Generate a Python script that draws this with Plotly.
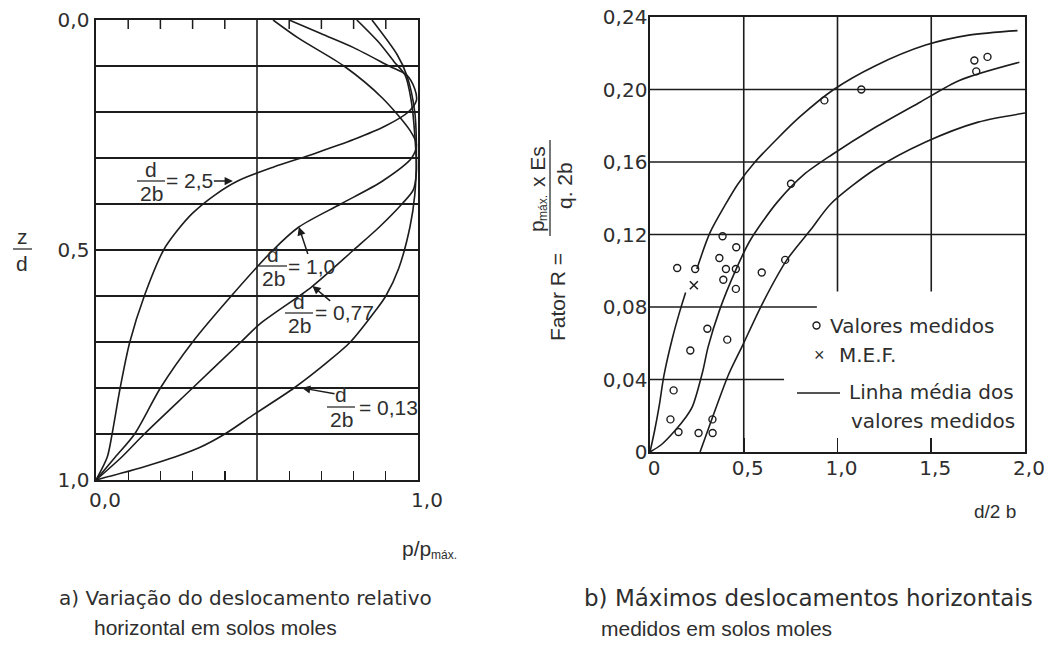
import plotly.graph_objects as go

W, H = 1050, 649
INK = "#1c1c1c"
TXT = "#2e2e2e"
FONT_FAMILY = "Liberation Sans, Arial, sans-serif"
WIDE_FAMILY = "DejaVu Sans, Verdana, sans-serif"
FS = 21

# ---------------- Panel a) data: p/pmax vs z/d ----------------
c25_z = [1.0, 0.95, 0.9, 0.8, 0.7, 0.6, 0.5, 0.46, 0.42, 0.38, 0.35, 0.32, 0.29, 0.26, 0.23, 0.2, 0.175, 0.15, 0.12, 0.1, 0.06, 0.03, 0.0]
c25_p = [0.0, 0.035, 0.05, 0.075, 0.105, 0.15, 0.21, 0.25, 0.30, 0.37, 0.44, 0.55, 0.68, 0.80, 0.90, 0.97, 0.995, 0.99, 0.965, 0.91, 0.8, 0.7, 0.6]

c10_z = [1.0, 0.95, 0.9, 0.8, 0.7, 0.6, 0.5, 0.45, 0.4, 0.35, 0.3, 0.27, 0.24, 0.17, 0.1, 0.04, 0.0]
c10_p = [0.0, 0.06, 0.12, 0.2, 0.3, 0.42, 0.55, 0.63, 0.76, 0.89, 0.98, 0.995, 0.975, 0.89, 0.77, 0.63, 0.55]

c077_z = [1.0, 0.95, 0.9, 0.8, 0.7, 0.66, 0.58, 0.5, 0.45, 0.4, 0.37, 0.33, 0.25, 0.18, 0.12, 0.09, 0.05, 0.0]
c077_p = [0.0, 0.08, 0.15, 0.30, 0.45, 0.51, 0.67, 0.80, 0.88, 0.95, 0.985, 0.995, 0.99, 0.98, 0.96, 0.925, 0.88, 0.81]

c013_z = [1.0, 0.985, 0.97, 0.95, 0.93, 0.9, 0.86, 0.8, 0.74, 0.7, 0.63, 0.6, 0.54, 0.45, 0.38, 0.3, 0.2, 0.12, 0.075, 0.0]
c013_p = [0.0, 0.08, 0.155, 0.245, 0.32, 0.40, 0.485, 0.615, 0.725, 0.79, 0.87, 0.90, 0.94, 0.975, 0.99, 0.995, 0.99, 0.965, 0.935, 0.857]

# ---------------- Panel b) data: R vs d/2b ----------------
upper_x = [0.0, 0.025, 0.05, 0.074, 0.12, 0.16, 0.19, None, 0.25, 0.32, 0.405, 0.47, 0.56, 0.68, 0.80, 0.98, 1.2, 1.47, 1.7, 1.96]
upper_y = [0.0, 0.012, 0.026, 0.042, 0.063, 0.078, 0.088, None, 0.101, 0.121, 0.137, 0.148, 0.160, 0.173, 0.185, 0.200, 0.213, 0.2245, 0.23, 0.2325]

middle_x = [0.0, 0.06, 0.135, 0.19, 0.226, 0.28, 0.31, 0.37, 0.46, 0.53, 0.6, 0.68, 0.82, 0.97, 1.2, 1.44, 1.65, 1.97]
middle_y = [0.0, 0.004, 0.012, 0.019, 0.025, 0.044, 0.058, 0.078, 0.101, 0.116, 0.127, 0.138, 0.153, 0.164, 0.179, 0.193, 0.205, 0.215]

lower_x = [0.267, 0.333, 0.418, 0.49, 0.605, 0.73, 0.86, 0.965, 1.2, 1.47, 1.75, 2.0]
lower_y = [0.0, 0.019, 0.0425, 0.058, 0.083, 0.106, 0.123, 0.137, 0.156, 0.171, 0.182, 0.187]

meas_x = [0.145, 0.241, 0.387, 0.46, 0.37, 0.405, 0.458, 0.391, 0.458, 0.596, 0.306, 0.412, 0.215,
          0.126, 0.109, 0.152, 0.259, 0.334, 0.333, 0.721, 0.752, 0.93, 1.127, 1.73, 1.80, 1.74]
meas_y = [0.1015, 0.101, 0.119, 0.113, 0.107, 0.101, 0.101, 0.095, 0.09, 0.099, 0.068, 0.062, 0.056,
          0.034, 0.018, 0.011, 0.0105, 0.0105, 0.018, 0.106, 0.148, 0.194, 0.2, 0.216, 0.218, 0.21]

mef_x = [0.234]
mef_y = [0.092]

# tick labels / tick positions
a_x_ticks = [0, 1]
a_x_text = ["0,0", "1,0"]
a_tick_marks = [0.1, 0.2, 0.3, 0.4, 0.6, 0.7, 0.8, 0.9]
a_y_ticks = [0, 0.5, 1]
a_y_text = ["0,0", "0,5", "1,0"]
b_x_ticks = [0, 0.5, 1.0, 1.5, 2.0]
b_x_text = ["0", "0,5", "1,0", "1,5", "2,0"]
b_y_ticks = [0, 0.04, 0.08, 0.12, 0.16, 0.20, 0.24]
b_y_text = ["0", "0,04", "0,08", "0,12", "0,16", "0,20", "0,24"]

# grids: (value, start, end)
a_vgrid = [(0.5, 0.0, 1.0)]
b_vgrid = [(0.5, 0.0, 0.24), (1.0, 0.0885, 0.24), (1.5, 0.0885, 0.24)]
b_hgrid = [(0.04, 0.0, 0.715), (0.08, 0.0, 0.89), (0.12, 0.0, 2.0), (0.16, 0.0, 2.0), (0.20, 0.0, 2.0)]

A_TICKLEN_PX = 9
A_TOP_PX = 20
A_BOTTOM_PX = 480


def PX(x):
    return x / W


def PY(y):
    return 1 - y / H


A_XDOM = [96 / W, 418 / W]
A_YDOM = [PY(A_BOTTOM_PX), PY(A_TOP_PX)]
A_TICK_DEPTH = A_TICKLEN_PX / (A_BOTTOM_PX - A_TOP_PX)   # tick length in z/d units

fig = go.Figure()

line_style = dict(color=INK, width=1.6, shape="spline", smoothing=0.8)
# panel a: three curves on (x, y); the fourth on the label-carrying twin axes (x3, y3) with identical ranges
for p, z, xa, ya in [(c25_p, c25_z, "x", "y"), (c10_p, c10_z, "x", "y"),
                     (c077_p, c077_z, "x", "y"), (c013_p, c013_z, "x3", "y3")]:
    fig.add_trace(go.Scatter(x=p, y=z, mode="lines", line=line_style, xaxis=xa, yaxis=ya,
                             showlegend=False, hoverinfo="skip"))

# top tick marks of panel a, built from the tick positions (short segments hanging from the top frame)
tick_x, tick_y = [], []
for v in a_tick_marks:
    tick_x += [v, v, None]
    tick_y += [0.0, A_TICK_DEPTH, None]
fig.add_trace(go.Scatter(x=tick_x, y=tick_y, mode="lines", line=dict(color=INK, width=1.5),
                         xaxis="x", yaxis="y", showlegend=False, hoverinfo="skip", connectgaps=False,
                         cliponaxis=False))

for xs, ys in [(upper_x, upper_y), (middle_x, middle_y), (lower_x, lower_y)]:
    fig.add_trace(go.Scatter(x=xs, y=ys, mode="lines", line=line_style, xaxis="x2", yaxis="y2",
                             showlegend=False, hoverinfo="skip", connectgaps=False))

fig.add_trace(go.Scatter(x=meas_x, y=meas_y, mode="markers", xaxis="x2", yaxis="y2",
                         marker=dict(symbol="circle-open", size=7, color=INK, line=dict(width=1.4)),
                         showlegend=False, hoverinfo="skip"))
fig.add_trace(go.Scatter(x=mef_x, y=mef_y, mode="markers", xaxis="x2", yaxis="y2",
                         marker=dict(symbol="x-thin-open", size=8, color=INK, line=dict(width=1.5, color=INK)),
                         showlegend=False, hoverinfo="skip"))

tickfont = dict(family=WIDE_FAMILY, size=20, color=TXT)

shapes = []
for v, a, b in a_vgrid:
    shapes.append(dict(type="line", xref="x", yref="y", x0=v, x1=v, y0=a, y1=b,
                       line=dict(color=INK, width=1.6), layer="below"))
for v, a, b in b_vgrid:
    shapes.append(dict(type="line", xref="x2", yref="y2", x0=v, x1=v, y0=a, y1=b,
                       line=dict(color=INK, width=1.6), layer="below"))
for v, a, b in b_hgrid:
    shapes.append(dict(type="line", xref="x2", yref="y2", x0=a, x1=b, y0=v, y1=v,
                       line=dict(color=INK, width=1.6), layer="below"))


def hbar(x0, x1, y):
    shapes.append(dict(type="line", xref="paper", yref="paper", x0=PX(x0), x1=PX(x1), y0=PY(y), y1=PY(y),
                       line=dict(color=TXT, width=1.3)))


hbar(13, 32, 249)     # z/d
hbar(137, 165, 181)   # 2,5
hbar(259, 287, 266)   # 1,0
hbar(285, 313, 313)   # 0,77
hbar(327, 355, 407)   # 0,13
# vertical fraction bar of the rotated y title
shapes.append(dict(type="line", xref="paper", yref="paper", x0=PX(550), x1=PX(550), y0=PY(140), y1=PY(236),
                   line=dict(color=TXT, width=1.3)))
# legend line sample
shapes.append(dict(type="line", xref="paper", yref="paper", x0=PX(797), x1=PX(840), y0=PY(393), y1=PY(393),
                   line=dict(color=INK, width=1.6)))
# legend circle sample
shapes.append(dict(type="circle", xref="paper", yref="paper", x0=PX(813), x1=PX(820), y0=PY(322), y1=PY(329),
                   line=dict(color=INK, width=1.4)))

annotations = []


def txt(s, x, y, xanchor="center", size=FS, angle=0, family=FONT_FAMILY):
    annotations.append(dict(text=s, x=PX(x), y=PY(y), xref="paper", yref="paper", showarrow=False,
                            xanchor=xanchor, yanchor="middle", textangle=angle,
                            font=dict(family=family, size=size, color=TXT)))


def arrow_label(s, hx, hy, cx, cy, hx_px, hy_px):
    # text centred at pixel (cx, cy); arrow head at data point (hx, hy) located at pixel (hx_px, hy_px)
    annotations.append(dict(text=s, x=hx, y=hy, xref="x", yref="y", ax=cx - hx_px, ay=cy - hy_px,
                            showarrow=True, arrowhead=2, arrowsize=1.1, arrowwidth=1.5, arrowcolor=INK,
                            standoff=0, startstandoff=0, borderpad=0,
                            font=dict(family=FONT_FAMILY, size=FS, color=TXT)))


# z/d label
txt("z", 22, 237)
txt("d", 22, 263)
# x title panel a: p/p with subscript máx.
txt("p/p", 433, 548, "right")
txt("máx.", 429, 555, "left", size=12)

# curve labels (fraction parts + text carrying the arrow)
txt("d", 151, 169); txt("2b", 151, 193)
arrow_label("= 2,5", 0.425, 0.35, 190, 181, 233, 181)
txt("d", 273, 254); txt("2b", 273, 278)
arrow_label("= 1,0", 0.63, 0.45, 312, 266, 299, 227)
txt("d", 299, 301); txt("2b", 299, 325)
arrow_label("= 0,77", 0.672, 0.578, 344, 313, 312, 286)
txt("2b", 341, 419)
arrow_label("d", 0.64, 0.80, 341, 395, 302, 388)
txt("= 0,13", 357, 407, "left")

# panel b titles
txt("d/2 b", 995, 511, size=19)
txt("Fator R =", 557, 297, angle=-90)
txt("p", 536, 226, angle=-90)
txt("máx.", 543, 208, angle=-90, size=12)
txt("x Es", 537, 167, angle=-90)
txt("q. 2b", 565, 186, angle=-90)

# legend text
txt("Valores medidos", 828, 326, "left", family=WIDE_FAMILY, size=20)
txt("×", 819, 355, size=18)
txt("M.E.F.", 837, 355, "left", family=WIDE_FAMILY, size=20)
txt("Linha média dos", 847, 392, "left", family=WIDE_FAMILY, size=20)
txt("valores medidos", 849, 421, "left", family=WIDE_FAMILY, size=20)

# captions
txt("a) Variação do deslocamento relativo", 57, 598, "left", family=WIDE_FAMILY, size=20)
txt("horizontal em solos moles", 92, 627, "left")
txt("b) Máximos deslocamentos horizontais", 582, 598, "left", family=WIDE_FAMILY, size=23)
txt("medidos em solos moles", 599, 628, "left")

fig.update_layout(
    width=W, height=H, margin=dict(l=0, r=0, t=0, b=0, pad=0, autoexpand=False),
    paper_bgcolor="white", plot_bgcolor="rgba(0,0,0,0)", showlegend=False,
    shapes=shapes, annotations=annotations,
    # panel a: frame, bottom tick marks, grid
    xaxis=dict(domain=A_XDOM, range=[0, 1], anchor="y", automargin=False,
               showline=True, linecolor=INK, linewidth=1.6, mirror=True,
               tickmode="array", tickvals=a_tick_marks, ticks="inside", ticklen=A_TICKLEN_PX,
               tickcolor=INK, tickwidth=1.4, showticklabels=False,
               showgrid=False, zeroline=False, fixedrange=True),
    yaxis=dict(domain=A_YDOM, range=[1, 0], anchor="x", automargin=False,
               showline=True, linecolor=INK, linewidth=1.6, mirror=True,
               tickmode="array", tickvals=a_y_ticks, ticktext=a_y_text, ticks="",
               showgrid=False, zeroline=False,
               minor=dict(tick0=0, dtick=0.1, showgrid=True, gridcolor=INK, gridwidth=1.6),
               tickfont=tickfont, ticklabelstandoff=1, fixedrange=True),
    # panel a: twin axes with identical placement that carry the x tick labels
    xaxis3=dict(domain=A_XDOM, range=[0, 1], anchor="y3", automargin=False,
                tickmode="array", tickvals=a_x_ticks, ticktext=a_x_text, ticks="",
                showline=False, showgrid=False, zeroline=False,
                tickfont=tickfont, ticklabelstandoff=6, ticklabelshift=9, fixedrange=True),
    yaxis3=dict(domain=A_YDOM, range=[1, 0], anchor="x3", automargin=False, visible=False,
                fixedrange=True),
    xaxis2=dict(domain=[650 / W, 1025 / W], range=[0, 2], anchor="y2", automargin=False,
                showline=True, linecolor=INK, linewidth=1.6, mirror=True,
                tickmode="array", tickvals=b_x_ticks, ticktext=b_x_text,
                ticks="inside", ticklen=14, tickcolor=INK, tickwidth=1.6,
                showgrid=False, zeroline=False, tickfont=tickfont, ticklabelstandoff=-3,
                ticklabelshift=4, fixedrange=True),
    yaxis2=dict(domain=[1 - 452 / H, 1 - 17 / H], range=[0, 0.24], anchor="x2", automargin=False,
                showline=True, linecolor=INK, linewidth=1.6, mirror=True,
                tickmode="array", tickvals=b_y_ticks, ticktext=b_y_text, ticks="",
                showgrid=False, zeroline=False, tickfont=tickfont, ticklabelstandoff=-3, fixedrange=True),
)

fig.write_html("out.html", config={"displayModeBar": False, "staticPlot": True},
               post_script="document.body.style.margin='0px';")
